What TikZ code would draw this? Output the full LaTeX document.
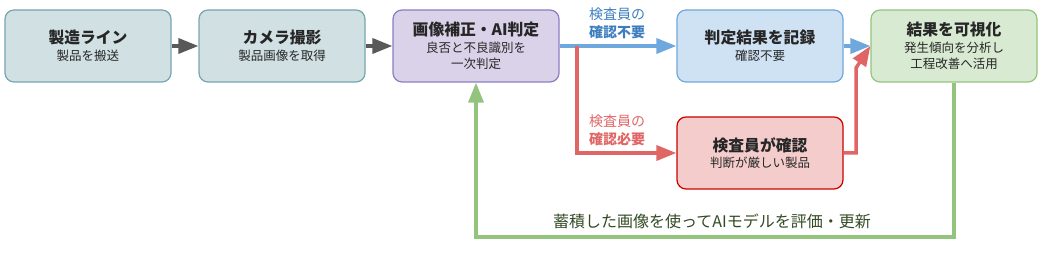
\documentclass[tikz,border=0pt]{standalone}
\usepackage{fontspec}
\setmainfont{Noto Sans CJK JP}
\usepackage{tikz}
\usetikzlibrary{arrows.meta}
\definecolor{tealfill}{HTML}{D0E0E3}
\definecolor{tealline}{HTML}{76A5AF}
\definecolor{purpfill}{HTML}{D9D2E9}
\definecolor{purpline}{HTML}{8E7CC3}
\definecolor{bluefill}{HTML}{CFE2F3}
\definecolor{blueline}{HTML}{6FA8DC}
\definecolor{bluetext}{HTML}{3D7EBE}
\definecolor{grnfill}{HTML}{D9EAD3}
\definecolor{grnline}{HTML}{93C47D}
\definecolor{grntext}{HTML}{334A24}
\definecolor{redfill}{HTML}{F4CCCC}
\definecolor{redline}{HTML}{CC0000}
\definecolor{redarrow}{HTML}{E06666}
\definecolor{grayarrow}{HTML}{595959}
\newcommand{\ttl}[1]{{\fontsize{15.8}{17}\selectfont\bfseries #1}}
\tikzset{
  box/.style={draw, line width=1.2pt, rounded corners=9pt, minimum width=166pt,
    minimum height=72pt, align=center, text=black!85,
    font=\fontsize{12.5}{16.5}\selectfont},
  flow/.style={line width=3.5pt, -{Triangle[length=20pt,width=15pt]}},
}
\begin{document}
\begin{tikzpicture}[x=1pt, y=-1pt]
\useasboundingbox (0,0) rectangle (1047,261);
% Main line of steps
\node[box, fill=tealfill, draw=tealline] (line) at (88,46) {\ttl{製造ライン}\\製品を搬送};
\node[box, fill=tealfill, draw=tealline] (cam) at (282,46) {\ttl{カメラ撮影}\\製品画像を取得};
\node[box, fill=purpfill, draw=purpline] (ai) at (476,46) {\ttl{画像補正・AI判定}\\良否と不良識別を\\一次判定};
\node[box, fill=bluefill, draw=blueline] (rec) at (760,46) {\ttl{判定結果を記録}\\確認不要};
\node[box, fill=grnfill, draw=grnline] (viz) at (954,46) {\ttl{結果を可視化}\\発生傾向を分析し\\工程改善へ活用};
\node[box, fill=redfill, draw=redline] (insp) at (760,153) {\ttl{検査員が確認}\\判断が厳しい製品};
% Corner points
\coordinate (split) at (577,46);
\coordinate (up) at (856,68);
\coordinate (low) at (954,237);
\coordinate (back) at (476,237);
% Connectors
\draw[flow, grayarrow] (line) -- (cam);
\draw[flow, grayarrow] (cam) -- (ai);
\draw[flow, blueline] (ai) -- (rec);
\draw[flow, blueline] (rec) -- (viz);
\draw[flow, redarrow] (split) |- (insp);
\draw[flow, redarrow] (insp.east) -| (up) -- (viz.west);
\draw[flow, grnline] (viz.south) -- (low) -- (back) -- (ai.south);
% Branch labels
\node[text=bluetext, align=center, font=\fontsize{14}{18}\selectfont] (okl) at (617,23) {検査員の\\\textbf{確認不要}};
\node[text=redarrow, align=center, font=\fontsize{14}{18}\selectfont] (ngl) at (617,130) {検査員の\\\textbf{確認必要}};
\node[text=grntext, font=\fontsize{16}{18}\selectfont] (loopl) at (712,221) {蓄積した画像を使ってAIモデルを評価・更新};
\end{tikzpicture}
\end{document}
